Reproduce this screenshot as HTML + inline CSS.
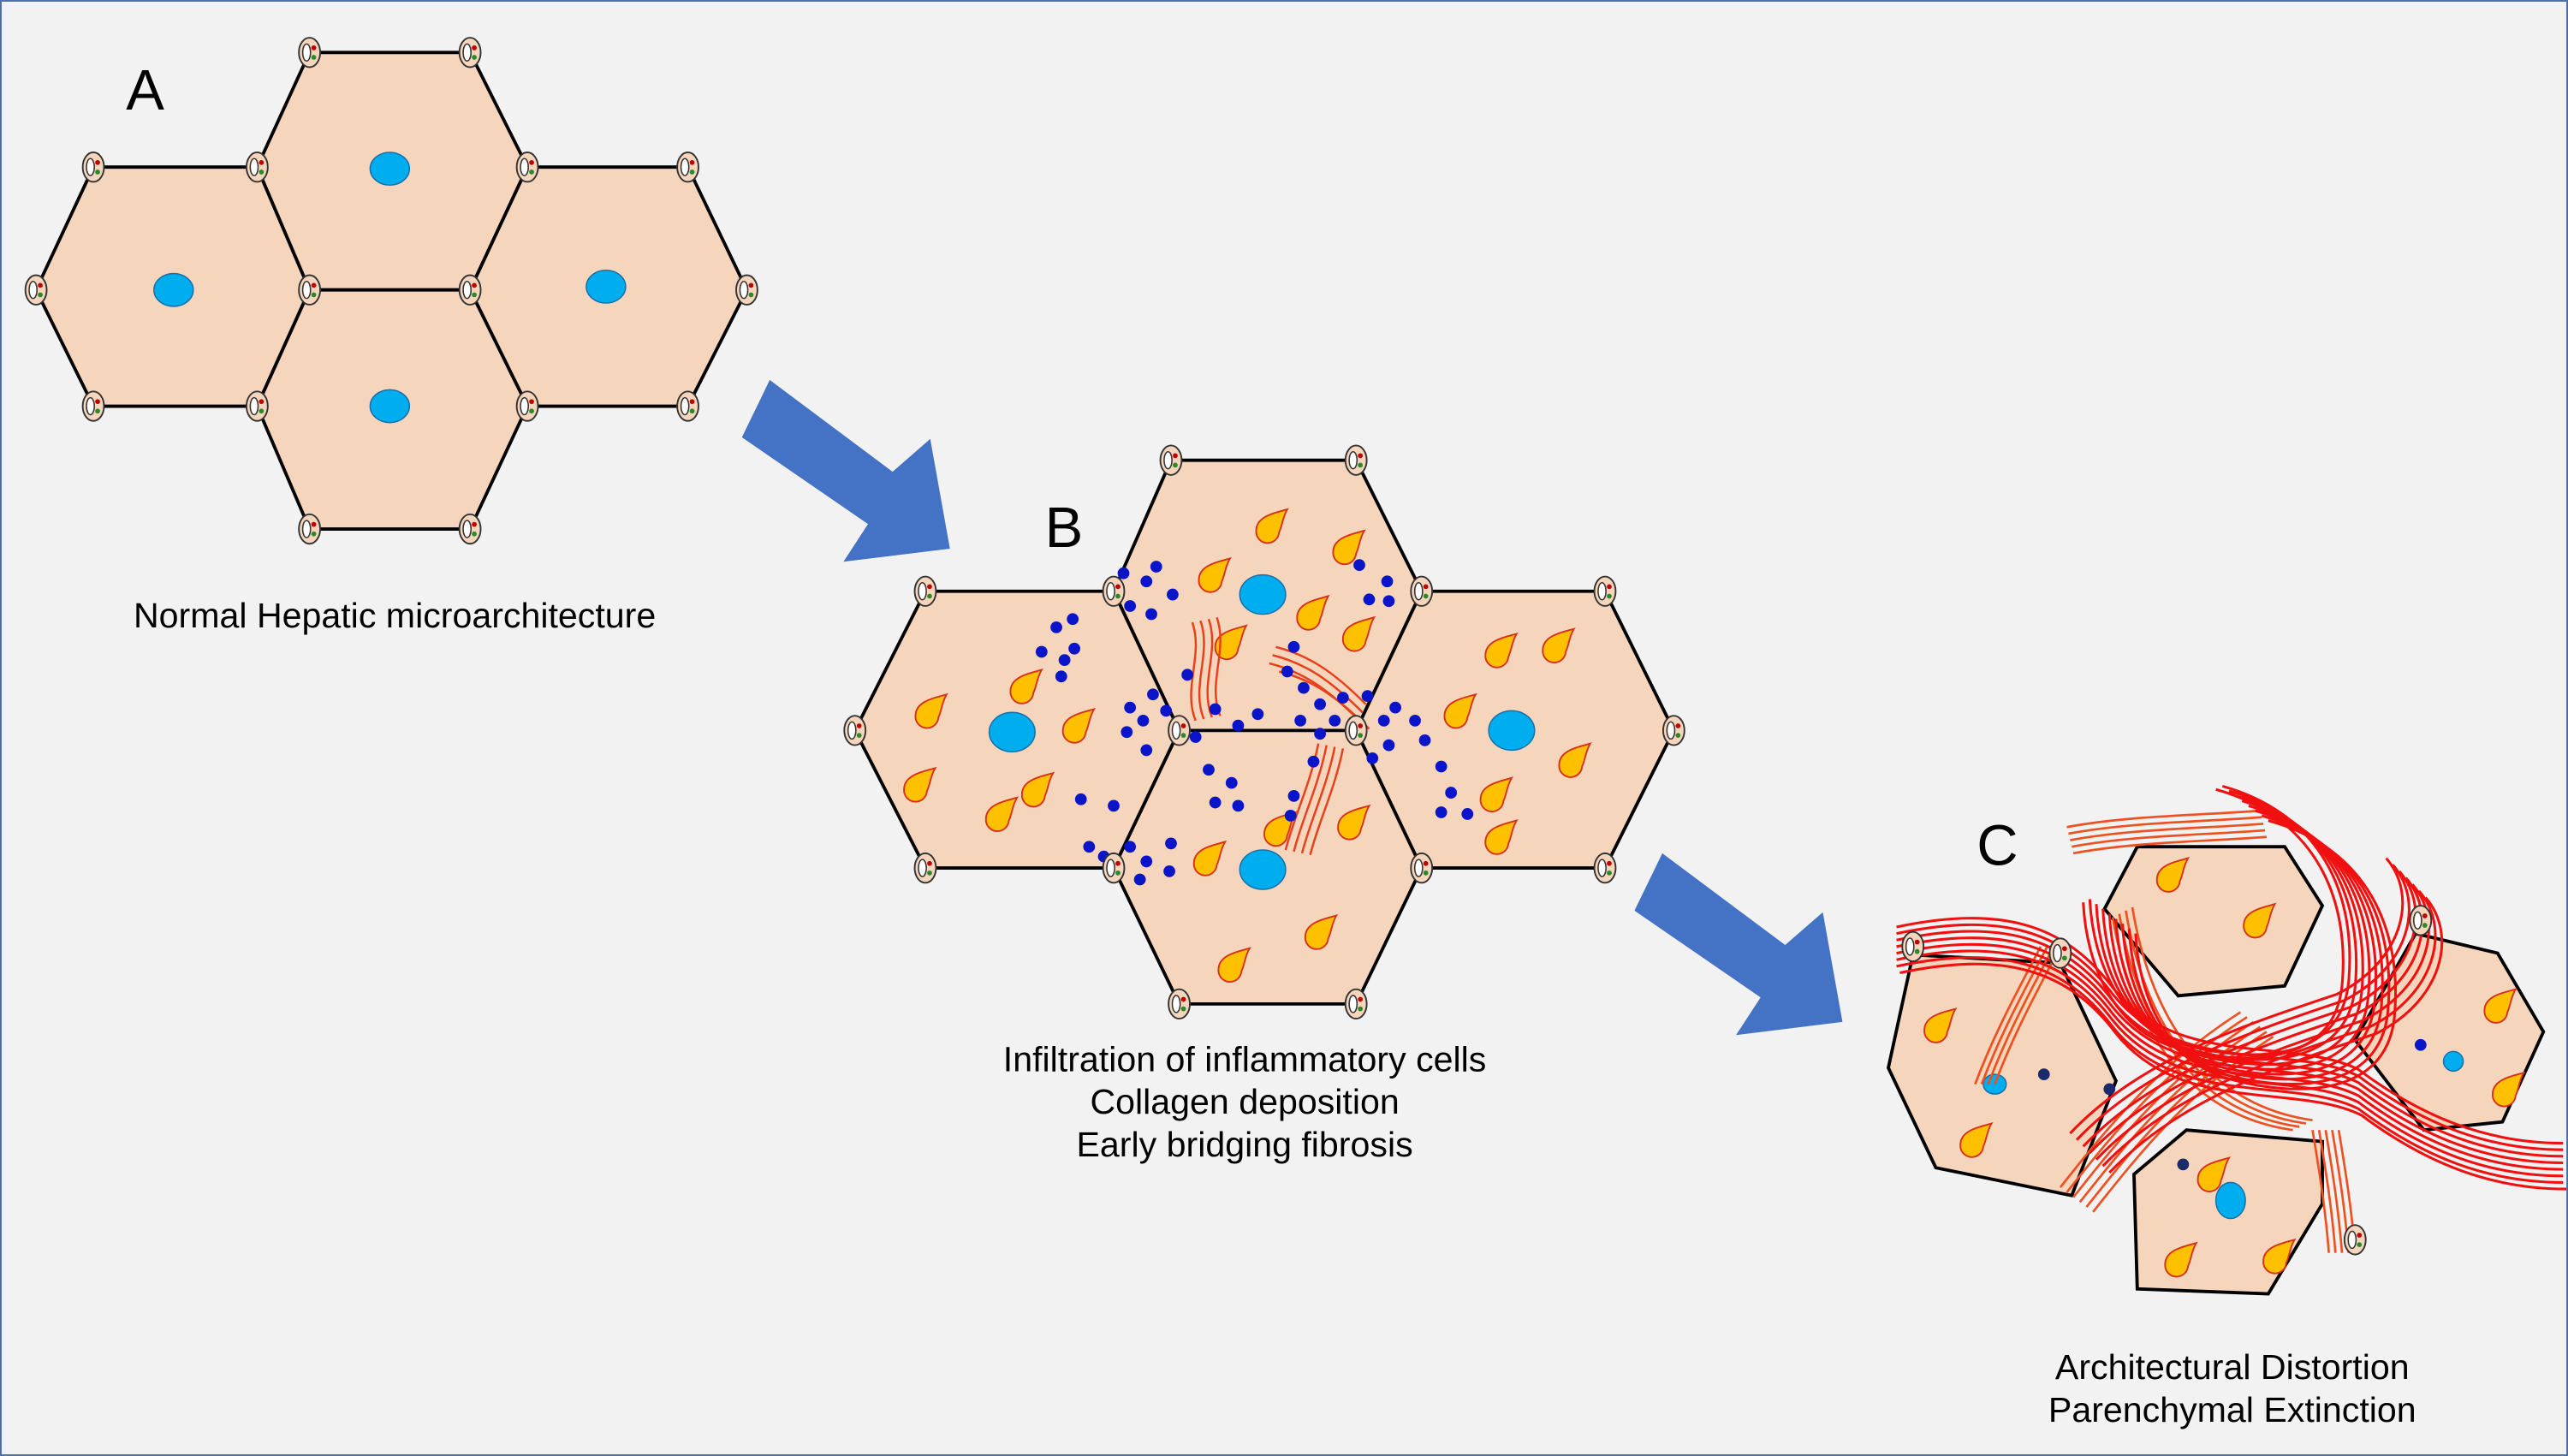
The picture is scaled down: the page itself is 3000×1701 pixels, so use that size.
<!DOCTYPE html>
<html><head><meta charset="utf-8"><style>
html,body{margin:0;padding:0;background:#f2f2f2}
svg{display:block}
text{font-family:"Liberation Sans",Arial,sans-serif;fill:#000}
</style></head><body>
<svg width="3000" height="1701" viewBox="0 0 1568 889" xmlns="http://www.w3.org/2000/svg">
<defs>
<g id="pt"><ellipse cx="0" cy="0" rx="6.5" ry="9" fill="#f6d5bd" stroke="#333" stroke-width="1"/><ellipse cx="-1.8" cy="0" rx="2.4" ry="5.2" fill="#fff" stroke="#333" stroke-width="0.8"/><circle cx="2.6" cy="-2.8" r="1.5" fill="#c00000"/><circle cx="2.6" cy="3" r="1.5" fill="#2a8a2a"/></g>
<path id="dr" d="M11,-11 C4,-9 -8,-7 -8,2 A7,7 0 0 0 6,3 C8,-1 8,-6 11,-11 Z" fill="#ffc000" stroke="#d8301a" stroke-width="1"/>
<circle id="bd" r="3.6" fill="#0a14c8"/>
<circle id="nd" r="3.6" fill="#1a2a6a"/>
<path id="c1" d="M1158,570 C1220,557 1260,567 1290,607 C1330,657 1400,637 1440,657 C1480,687 1520,702 1565,702" fill="none"/>
<path id="c2" d="M1365,486 C1426,503 1447,553 1442,606 C1437,655 1382,655 1342,644 C1304,634 1286,595 1284,555" fill="none"/>
<path id="c3" d="M1272,700 C1315,655 1375,635 1435,615 C1475,595 1485,555 1465,532" fill="none"/>
<path id="c4" d="M1262,505 C1300,498 1340,498 1380,495" fill="none"/>
<path id="c5" d="M1258,725 C1288,687 1318,650 1368,618" fill="none"/>
<path id="c6" d="M1206,662 C1218,630 1232,605 1246,578" fill="none"/>
<path id="c7" d="M1412,690 C1417,720 1420,740 1422,765" fill="none"/>
<path id="c8" d="M1290,560 C1300,620 1330,680 1400,690" fill="none"/>
</defs>
<rect x="0.5" y="0.5" width="1567" height="888" fill="#f2f2f2" stroke="#4a6aa8" stroke-width="1"/>

<!-- Panel A -->
<g fill="#f6d5bd" stroke="#000" stroke-width="2">
<polygon points="57,102 157,102 189,177 157,248 57,248 22,177"/>
<polygon points="189,32 287,32 322,102 287,177 189,177 157,102"/>
<polygon points="322,102 420,102 456,177 420,248 322,248 287,177"/>
<polygon points="189,177 287,177 322,248 287,323 189,323 157,248"/>
</g>
<g fill="#00aeef" stroke="#1a6fa8" stroke-width="0.8">
<ellipse cx="106" cy="177" rx="12" ry="10"/><ellipse cx="238" cy="103" rx="12" ry="10"/>
<ellipse cx="370" cy="175" rx="12" ry="10"/><ellipse cx="238" cy="248" rx="12" ry="10"/>
</g>
<g>
<use href="#pt" x="57" y="102"/><use href="#pt" x="157" y="102"/><use href="#pt" x="189" y="32"/><use href="#pt" x="287" y="32"/>
<use href="#pt" x="322" y="102"/><use href="#pt" x="420" y="102"/><use href="#pt" x="22" y="177"/><use href="#pt" x="189" y="177"/>
<use href="#pt" x="287" y="177"/><use href="#pt" x="456" y="177"/><use href="#pt" x="57" y="248"/><use href="#pt" x="157" y="248"/>
<use href="#pt" x="322" y="248"/><use href="#pt" x="420" y="248"/><use href="#pt" x="189" y="323"/><use href="#pt" x="287" y="323"/>
</g>
<text x="77" y="67" font-size="35">A</text>
<text x="241" y="383" font-size="21.5" text-anchor="middle">Normal Hepatic microarchitecture</text>

<!-- Arrows -->
<polygon points="470,232 545,288 568,268 580,335 515,343 530,320 453,267" fill="#4472c4"/>
<polygon points="1015,521 1090,577 1113,557 1125,624 1060,632 1075,609 998,556" fill="#4472c4"/>

<!-- Panel B -->
<g fill="#f6d5bd" stroke="#000" stroke-width="2">
<polygon points="565,361 680,361 720,446 680,530 565,530 522,446"/>
<polygon points="715,281 828,281 868,361 828,446 720,446 680,361"/>
<polygon points="868,361 980,361 1022,446 980,530 868,530 828,446"/>
<polygon points="720,446 828,446 868,530 828,613 720,613 680,530"/>
</g>
<g fill="#00aeef" stroke="#1a6fa8" stroke-width="0.8">
<ellipse cx="618" cy="447" rx="14" ry="12"/><ellipse cx="771" cy="363" rx="14" ry="12"/>
<ellipse cx="923" cy="446" rx="14" ry="12"/><ellipse cx="771" cy="531" rx="14" ry="12"/>
</g>
<g>
<use href="#dr" x="775" y="322"/><use href="#dr" x="822" y="335"/><use href="#dr" x="740" y="352"/><use href="#dr" x="800" y="375"/><use href="#dr" x="828" y="388"/><use href="#dr" x="750" y="393"/>
<use href="#dr" x="567" y="435"/><use href="#dr" x="625" y="420"/><use href="#dr" x="657" y="444"/><use href="#dr" x="560" y="480"/><use href="#dr" x="632" y="483"/><use href="#dr" x="610" y="498"/>
<use href="#dr" x="915" y="398"/><use href="#dr" x="950" y="395"/><use href="#dr" x="890" y="435"/><use href="#dr" x="960" y="465"/><use href="#dr" x="912" y="486"/><use href="#dr" x="915" y="512"/>
<use href="#dr" x="780" y="507"/><use href="#dr" x="825" y="503"/><use href="#dr" x="737" y="525"/><use href="#dr" x="752" y="590"/><use href="#dr" x="805" y="570"/>
</g>
<g fill="none" stroke="#e8401a" stroke-width="1.3">
<path d="M728,380 C735,400 722,420 730,440"/><path d="M733,379 C740,399 727,419 735,439"/><path d="M738,378 C745,398 732,418 740,438"/><path d="M743,377 C750,397 737,417 745,437"/>
<path d="M775,405 C795,410 810,420 830,440"/><path d="M777,400 C797,405 812,415 832,435"/><path d="M779,395 C799,400 814,410 834,430"/><path d="M781,410 C801,415 816,425 836,445"/>
<path d="M790,520 C795,500 805,480 810,455"/><path d="M795,521 C800,501 810,481 815,456"/><path d="M800,522 C805,502 815,482 820,457"/><path d="M785,519 C790,499 800,479 805,454"/>
</g>
<g>
<use href="#bd" x="686" y="350"/><use href="#bd" x="700" y="355"/><use href="#bd" x="706" y="346"/><use href="#bd" x="690" y="370"/><use href="#bd" x="703" y="375"/><use href="#bd" x="716" y="363"/>
<use href="#bd" x="645" y="383"/><use href="#bd" x="655" y="378"/><use href="#bd" x="636" y="398"/><use href="#bd" x="650" y="403"/><use href="#bd" x="656" y="396"/><use href="#bd" x="648" y="413"/>
<use href="#bd" x="690" y="432"/><use href="#bd" x="698" y="440"/><use href="#bd" x="688" y="447"/><use href="#bd" x="704" y="424"/><use href="#bd" x="712" y="434"/><use href="#bd" x="700" y="458"/>
<use href="#bd" x="742" y="433"/><use href="#bd" x="756" y="443"/><use href="#bd" x="768" y="436"/><use href="#bd" x="738" y="470"/><use href="#bd" x="752" y="478"/><use href="#bd" x="742" y="490"/><use href="#bd" x="756" y="492"/><use href="#bd" x="730" y="450"/>
<use href="#bd" x="786" y="410"/><use href="#bd" x="796" y="420"/><use href="#bd" x="806" y="430"/><use href="#bd" x="794" y="440"/><use href="#bd" x="806" y="448"/><use href="#bd" x="815" y="440"/><use href="#bd" x="820" y="426"/><use href="#bd" x="790" y="395"/><use href="#bd" x="802" y="465"/>
<use href="#bd" x="835" y="425"/><use href="#bd" x="845" y="440"/><use href="#bd" x="852" y="432"/><use href="#bd" x="848" y="455"/><use href="#bd" x="864" y="440"/><use href="#bd" x="870" y="452"/><use href="#bd" x="838" y="463"/><use href="#bd" x="830" y="345"/><use href="#bd" x="847" y="355"/><use href="#bd" x="848" y="367"/><use href="#bd" x="836" y="366"/>
<use href="#bd" x="880" y="468"/><use href="#bd" x="886" y="484"/><use href="#bd" x="896" y="497"/><use href="#bd" x="880" y="496"/>
<use href="#bd" x="660" y="488"/><use href="#bd" x="680" y="492"/><use href="#bd" x="665" y="517"/><use href="#bd" x="674" y="523"/><use href="#bd" x="690" y="517"/><use href="#bd" x="700" y="526"/><use href="#bd" x="714" y="532"/><use href="#bd" x="696" y="537"/><use href="#bd" x="715" y="515"/>
<use href="#bd" x="790" y="486"/><use href="#bd" x="788" y="498"/><use href="#bd" x="725" y="412"/>
</g>
<g>
<use href="#pt" x="565" y="361"/><use href="#pt" x="680" y="361"/><use href="#pt" x="715" y="281"/><use href="#pt" x="828" y="281"/>
<use href="#pt" x="868" y="361"/><use href="#pt" x="980" y="361"/><use href="#pt" x="522" y="446"/><use href="#pt" x="720" y="446"/>
<use href="#pt" x="828" y="446"/><use href="#pt" x="1022" y="446"/><use href="#pt" x="565" y="530"/><use href="#pt" x="680" y="530"/>
<use href="#pt" x="868" y="530"/><use href="#pt" x="980" y="530"/><use href="#pt" x="720" y="613"/><use href="#pt" x="828" y="613"/>
</g>
<text x="638" y="334" font-size="35">B</text>
<text x="760" y="654" font-size="21.5" text-anchor="middle">Infiltration of inflammatory cells</text>
<text x="760" y="680" font-size="21.5" text-anchor="middle">Collagen deposition</text>
<text x="760" y="706" font-size="21.5" text-anchor="middle">Early bridging fibrosis</text>

<!-- Panel C -->
<g fill="#f6d5bd" stroke="#000" stroke-width="2">
<polygon points="1168,583 1258,588 1292,660 1265,730 1182,713 1153,652"/>
<polygon points="1305,517 1395,517 1418,553 1395,602 1330,608 1285,555"/>
<polygon points="1475,570 1525,582 1553,630 1528,685 1480,690 1438,635"/>
<polygon points="1335,690 1418,697 1418,735 1385,790 1305,787 1303,717"/>
</g>
<g fill="#00aeef" stroke="#1a6fa8" stroke-width="0.8">
<ellipse cx="1218" cy="662" rx="7" ry="6"/><ellipse cx="1498" cy="648" rx="6" ry="6"/><ellipse cx="1362" cy="733" rx="9" ry="11"/>
</g>
<g>
<use href="#dr" x="1183" y="627"/><use href="#dr" x="1205" y="697"/><use href="#dr" x="1325" y="535"/><use href="#dr" x="1378" y="563"/>
<use href="#dr" x="1525" y="615"/><use href="#dr" x="1530" y="666"/><use href="#dr" x="1330" y="770"/><use href="#dr" x="1390" y="768"/><use href="#dr" x="1350" y="718"/>
<use href="#nd" x="1248" y="656"/><use href="#nd" x="1288" y="665"/><use href="#nd" x="1333" y="711"/><use href="#bd" x="1478" y="638"/>
</g>
<g stroke="#ee5020" stroke-width="1.4">
<use href="#c4"/><use href="#c4" x="1" y="4"/><use href="#c4" x="2" y="8"/><use href="#c4" x="3" y="12"/><use href="#c4" x="4" y="16"/>
<use href="#c5"/><use href="#c5" x="4" y="3"/><use href="#c5" x="8" y="6"/><use href="#c5" x="12" y="9"/><use href="#c5" x="16" y="12"/><use href="#c5" x="20" y="15"/>
<use href="#c6"/><use href="#c6" x="4" y="0"/><use href="#c6" x="8" y="0"/><use href="#c6" x="12" y="0"/>
<use href="#c7"/><use href="#c7" x="4"/><use href="#c7" x="8"/><use href="#c7" x="12"/><use href="#c7" x="16"/>
<use href="#c8"/><use href="#c8" x="4" y="-2"/><use href="#c8" x="8" y="-4"/><use href="#c8" x="12" y="-6"/>
</g>
<g stroke="#f01010" stroke-width="1.6">
<use href="#c1"/><use href="#c1" y="4"/><use href="#c1" y="8"/><use href="#c1" y="12"/><use href="#c1" y="16"/><use href="#c1" y="20"/><use href="#c1" y="-4"/><use href="#c1" x="2" y="24"/>
<use href="#c2"/><use href="#c2" x="4" y="3"/><use href="#c2" x="8" y="6"/><use href="#c2" x="12" y="9"/><use href="#c2" x="16" y="12"/><use href="#c2" x="-4" y="-3"/><use href="#c2" x="-8" y="-6"/><use href="#c2" x="20" y="15"/><use href="#c2" x="-12" y="-4"/>
<use href="#c3"/><use href="#c3" x="4" y="4"/><use href="#c3" x="8" y="8"/><use href="#c3" x="12" y="12"/><use href="#c3" x="-4" y="-4"/><use href="#c3" x="-8" y="-8"/><use href="#c3" x="16" y="16"/>
</g>
<g>
<use href="#pt" x="1168" y="578"/><use href="#pt" x="1258" y="582"/><use href="#pt" x="1478" y="562"/><use href="#pt" x="1438" y="757"/>
</g>
<text x="1207" y="528" font-size="35">C</text>
<text x="1363" y="842" font-size="21.5" text-anchor="middle">Architectural Distortion</text>
<text x="1363" y="868" font-size="21.5" text-anchor="middle">Parenchymal Extinction</text>
</svg>
</body></html>
